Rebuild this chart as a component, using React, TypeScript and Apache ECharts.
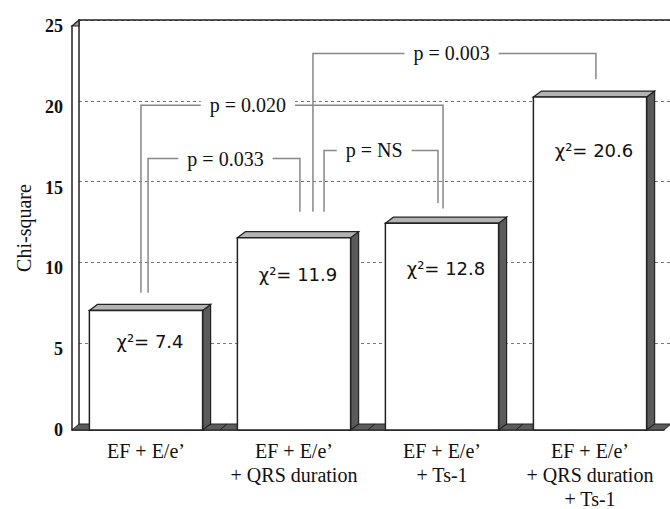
import React, { useEffect, useRef } from "react";
import * as echarts from "echarts";

// ---- data ----
const categories = [
  "EF + E/e’",
  "EF + E/e’\n+ QRS duration",
  "EF + E/e’\n+ Ts-1",
  "EF + E/e’\n+ QRS duration\n+ Ts-1",
];
const chiSquare = [7.4, 11.9, 12.8, 20.6];
const yMin = 0;
const yMax = 25;
const yInterval = 5;

const bracketLabels = ["p = 0.033", "p = 0.020", "p = NS", "p = 0.003"];
const bracketFrom = [0, 0, 1, 1];
const bracketTo = [1, 2, 2, 3];
const bracketLevel = [16.8, 20.1, 17.3, 23.3];
const bracketLeftEnd = [8.5, 8.5, 13.5, 13.5];
const bracketRightEnd = [13.5, 13.7, 14.05, 21.7];

// ---- layout (not data) ----
const legOffsetL = [0.014, -0.034, 0.203, 0.128];
const legOffsetR = [0.04, 0.007, -0.027, 0.04];
const bracketTextFrac = [0.51, 0.354, 0.44, 0.49];
const valueLabelDy = [31, 37, 45, 53];
const DX = 8;
const DY = 6;
const WX = 7;
const WY = 6;
const SERIF = '"Liberation Serif", "Times New Roman", serif';
const SANS = '"DejaVu Sans", sans-serif';

export default function App() {
  const ref = useRef<HTMLDivElement>(null);
  useEffect(() => {
    if (!ref.current) return;
    const chart = echarts.init(ref.current, undefined, { renderer: "svg" });

    const option: any = {
      animation: false,
      backgroundColor: "#fff",
      grid: [
        { left: 72, right: 6, top: 26, bottom: 79, outerBoundsMode: "none", containLabel: false },
        {
          left: 72 + WX,
          right: -10,
          top: 26 - WY,
          bottom: 79 + WY,
          outerBoundsMode: "none",
          containLabel: false,
        },
      ],
      xAxis: [
        {
          type: "category",
          gridIndex: 0,
          data: categories,
          boundaryGap: true,
          axisLine: { show: true, lineStyle: { color: "#222", width: 1.5 } },
          axisTick: { show: false },
          axisLabel: {
            margin: 9,
            fontFamily: SERIF,
            fontSize: 20,
            lineHeight: 24,
            color: "#111",
            interval: 0,
          },
          splitLine: { show: false },
        },
        {
          type: "value",
          gridIndex: 1,
          position: "top",
          min: 0,
          max: 1,
          axisLine: { show: true, onZero: false, lineStyle: { color: "#222", width: 1.5 } },
          axisTick: { show: false },
          axisLabel: { show: false },
          splitLine: { show: false },
        },
      ],
      yAxis: [
        {
          type: "value",
          gridIndex: 0,
          min: yMin,
          max: yMax,
          interval: yInterval,
          name: "Chi-square",
          nameLocation: "middle",
          nameGap: 38,
          nameTextStyle: { fontFamily: SERIF, fontSize: 20, color: "#111" },
          axisLine: { show: true, lineStyle: { color: "#222", width: 1.5 } },
          axisTick: { show: false },
          axisLabel: {
            margin: 9,
            fontFamily: SERIF,
            fontSize: 18,
            fontWeight: "bold",
            color: "#111",
          },
          splitLine: { show: false },
        },
        {
          type: "value",
          gridIndex: 1,
          min: yMin,
          max: yMax,
          interval: yInterval,
          axisLine: { show: true, onZero: false, lineStyle: { color: "#222", width: 1.5 } },
          axisTick: { show: false },
          axisLabel: { show: false },
          splitLine: {
            show: true,
            lineStyle: { color: "#777", width: 1, type: [3, 3] },
          },
        },
      ],
      series: [
        {
          type: "custom",
          name: "floor",
          xAxisIndex: 0,
          yAxisIndex: 0,
          data: categories.map((_, i) => [i, 0]),
          renderItem: (params: any, api: any) => {
            const idx = api.value(0);
            const base = api.coord([idx, yMin]);
            const topY = api.coord([idx, yMax])[1];
            const bw = api.size([1, 0])[0];
            const bl = base[0] - bw / 2;
            const br = base[0] + bw / 2;
            const y0 = base[1];
            const children: any[] = [
              {
                type: "polygon",
                shape: {
                  points: [
                    [bl, y0],
                    [bl + WX, y0 - WY],
                    [br + WX, y0 - WY],
                    [br, y0],
                  ],
                },
                style: { fill: "#5c5c5c", stroke: "#222", lineWidth: 1 },
              },
            ];
            if (idx === 0) {
              children.push({
                type: "polygon",
                shape: {
                  points: [
                    [bl, topY],
                    [bl + WX, topY - WY],
                    [bl + WX, topY],
                  ],
                },
                style: { fill: "#9a9a9a", stroke: "#222", lineWidth: 1.2 },
              });
            }
            return { type: "group", children };
          },
        },
        {
          type: "custom",
          name: "Chi-square",
          xAxisIndex: 0,
          yAxisIndex: 0,
          data: chiSquare.map((v, i) => [i, v]),
          renderItem: (params: any, api: any) => {
            const idx = api.value(0);
            const v = api.value(1);
            const top = api.coord([idx, v]);
            const base = api.coord([idx, 0]);
            const bw = api.size([1, 0])[0] * 0.765;
            const x0 = top[0] - bw / 2;
            const x1 = top[0] + bw / 2;
            const yT = top[1];
            const yB = base[1];
            return {
              type: "group",
              children: [
                {
                  type: "polygon",
                  shape: {
                    points: [
                      [x1, yT],
                      [x1 + DX, yT - DY],
                      [x1 + DX, yB - DY],
                      [x1, yB],
                    ],
                  },
                  style: { fill: "#5a5a5a", stroke: "#222", lineWidth: 1.2 },
                },
                {
                  type: "polygon",
                  shape: {
                    points: [
                      [x0, yT],
                      [x0 + DX, yT - DY],
                      [x1 + DX, yT - DY],
                      [x1, yT],
                    ],
                  },
                  style: { fill: "#b3b3b3", stroke: "#222", lineWidth: 1.2 },
                },
                {
                  type: "rect",
                  shape: { x: x0, y: yT, width: bw, height: yB - yT },
                  style: { fill: "#fff", stroke: "#222", lineWidth: 1.5 },
                },
                {
                  type: "text",
                  x: top[0] + 4,
                  y: yT + valueLabelDy[params.dataIndex],
                  style: {
                    text: "χ²= " + v.toFixed(1),
                    font: "18px " + SANS,
                    fill: "#111",
                    align: "center",
                    verticalAlign: "middle",
                  },
                },
              ],
            };
          },
        },
        {
          type: "custom",
          name: "brackets",
          xAxisIndex: 0,
          yAxisIndex: 0,
          data: bracketLabels.map((_, i) => [
            bracketFrom[i],
            bracketTo[i],
            bracketLevel[i],
            bracketLeftEnd[i],
            bracketRightEnd[i],
          ]),
          renderItem: (params: any, api: any) => {
            const i = params.dataIndex;
            const bw = api.size([1, 0])[0];
            const pl = api.coord([api.value(0), api.value(3)]);
            const pr = api.coord([api.value(1), api.value(4)]);
            const yL = api.coord([api.value(0), api.value(2)])[1];
            const xl = pl[0] + legOffsetL[i] * bw;
            const xr = pr[0] + legOffsetR[i] * bw;
            const xt = xl + (xr - xl) * bracketTextFrac[i];
            return {
              type: "group",
              children: [
                {
                  type: "polyline",
                  shape: {
                    points: [
                      [xl, pl[1]],
                      [xl, yL],
                      [xr, yL],
                      [xr, pr[1]],
                    ],
                  },
                  style: { stroke: "#888", lineWidth: 1.5, fill: null },
                },
                {
                  type: "text",
                  x: xt,
                  y: yL,
                  style: {
                    text: bracketLabels[i],
                    font: "20px " + SERIF,
                    fill: "#111",
                    align: "center",
                    verticalAlign: "middle",
                    backgroundColor: "#fff",
                    padding: [1, 9],
                  },
                },
              ],
            };
          },
        },
      ],
    };

    chart.setOption(option);
    return () => chart.dispose();
  }, []);

  return (
    <div
      ref={ref}
      style={{ position: "fixed", left: 0, top: 0, width: 670, height: 509 }}
    />
  );
}
